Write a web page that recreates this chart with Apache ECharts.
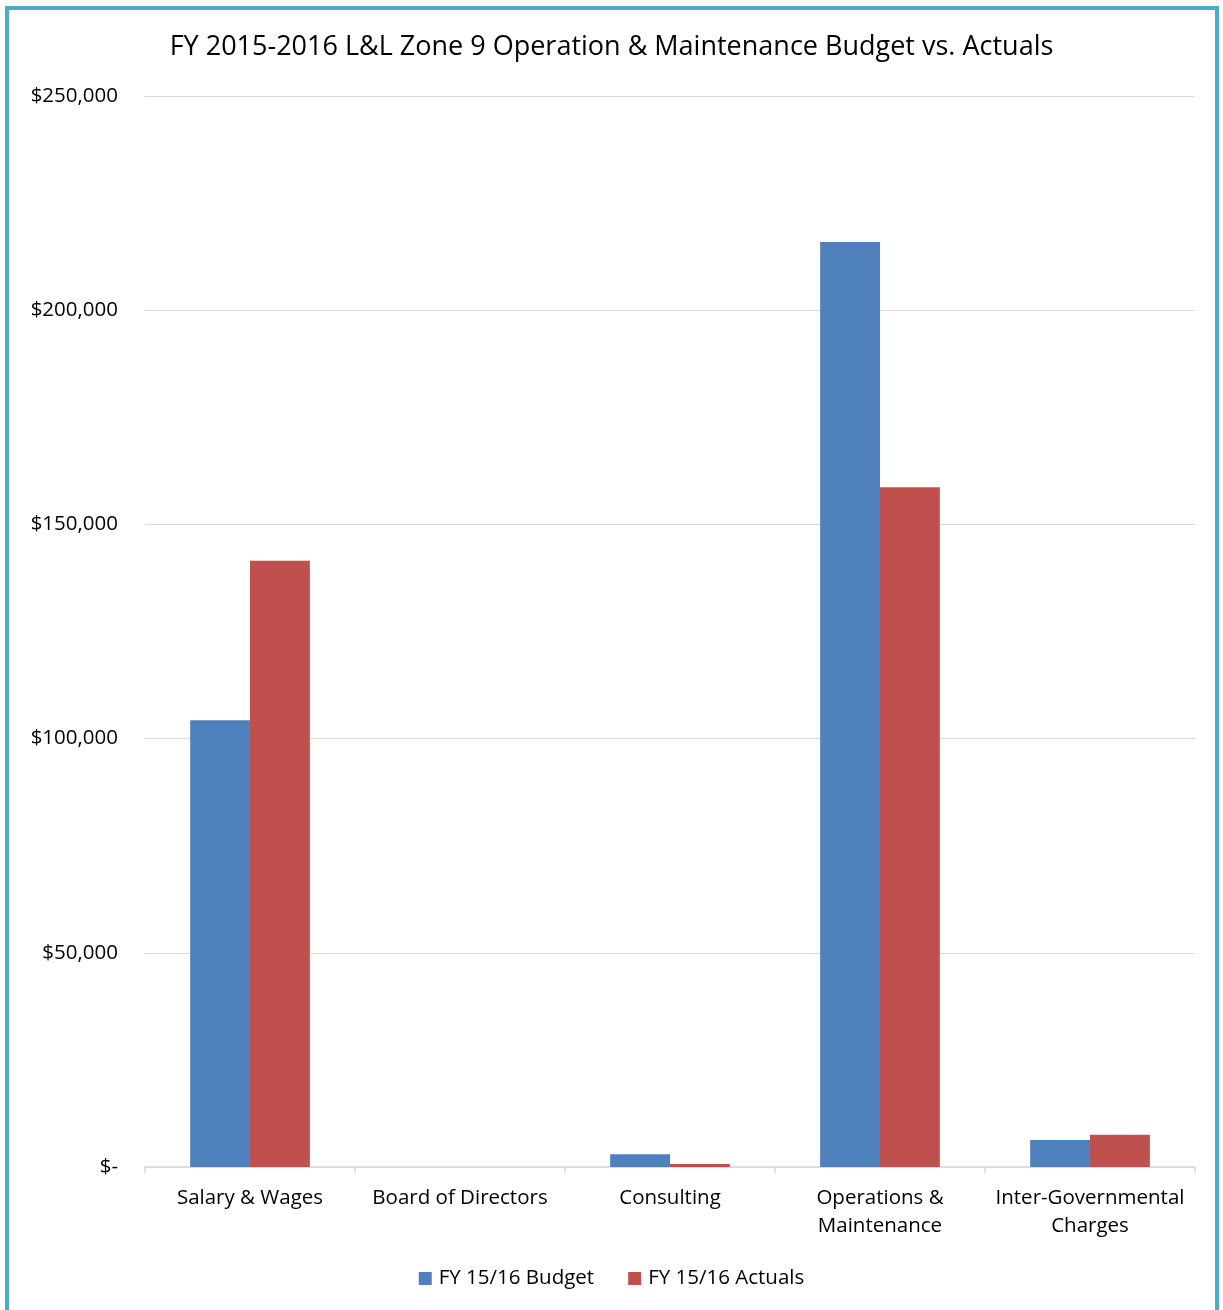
<!DOCTYPE html>
<html>
<head>
<meta charset="utf-8">
<script src="https://cdn.jsdelivr.net/npm/echarts@6/dist/echarts.min.js"></script>
<style>
html,body{margin:0;padding:0;background:#fff;}
#frame{position:absolute;left:5px;top:6px;width:1214px;height:1320px;border:4px solid #4bacc6;box-sizing:border-box;}
#chart{position:absolute;left:0;top:0;width:1223px;height:1310px;}
</style>
</head>
<body>
<div id="frame"></div>
<div id="chart"></div>
<script>
var categories = ['Salary & Wages', 'Board of Directors', 'Consulting', 'Operations &\nMaintenance', 'Inter-Governmental\nCharges'];
var budget = [104300, 0, 3000, 215900, 6300];
var actuals = [141500, 0, 700, 158700, 7500];
var seriesNames = ['FY 15/16 Budget', 'FY 15/16 Actuals'];
var titleText = 'FY 2015-2016 L&L Zone 9 Operation & Maintenance Budget vs. Actuals';

var font = 'Open Sans';
var fs = 20.5;
var chart = echarts.init(document.getElementById('chart'), null, {renderer: 'canvas'});
chart.setOption({
  animation: false,
  backgroundColor: 'transparent',
  title: {
    text: titleText,
    left: 'center',
    top: 29,
    textStyle: {fontFamily: font, fontSize: 27, fontWeight: 'normal', color: '#000'}
  },
  legend: {
    bottom: 16,
    left: 'center',
    itemWidth: 13,
    itemHeight: 13,
    itemGap: 34,
    icon: 'rect',
    textStyle: {fontFamily: font, fontSize: fs, color: '#000', padding: [0, 0, 0, 2]},
    data: seriesNames
  },
  grid: {left: 145, right: 28, top: 96, bottom: 143, containLabel: false},
  xAxis: {
    type: 'category',
    data: categories,
    axisLine: {lineStyle: {color: '#d9d9d9', width: 1.5}},
    axisTick: {show: true, length: 6, lineStyle: {color: '#d9d9d9', width: 1.5}},
    axisLabel: {fontFamily: font, fontSize: fs, color: '#000', margin: 17, lineHeight: 28, interval: 0}
  },
  yAxis: {
    type: 'value',
    min: 0,
    max: 250000,
    interval: 50000,
    axisLine: {show: false},
    axisTick: {show: false},
    splitLine: {lineStyle: {color: '#d9d9d9', width: 1.2}},
    axisLabel: {
      fontFamily: font, fontSize: fs, color: '#000', margin: 27,
      formatter: function (v) { return v === 0 ? '$-' : '$' + v.toLocaleString('en-US'); }
    }
  },
  series: [
    {name: seriesNames[0], type: 'bar', data: budget, barGap: '0%', barCategoryGap: '43%',
     itemStyle: {color: '#4f81bd'}},
    {name: seriesNames[1], type: 'bar', data: actuals, barGap: '0%', barCategoryGap: '43%',
     itemStyle: {color: '#c0504d'}}
  ]
});
</script>
</body>
</html>
